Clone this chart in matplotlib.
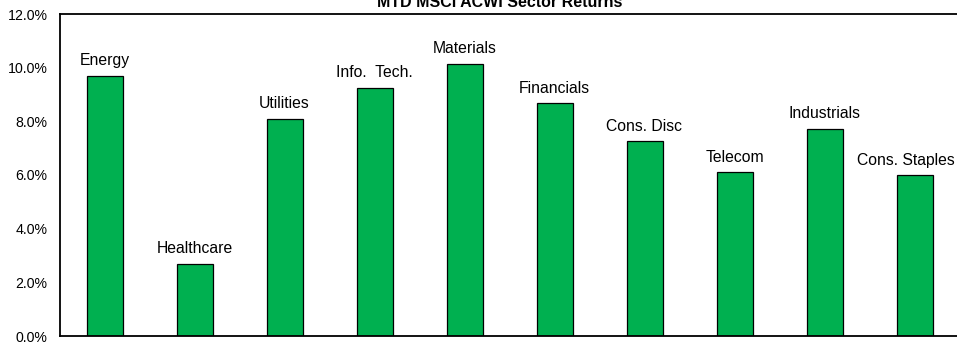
import numpy as np
import matplotlib.pyplot as plt
from matplotlib.ticker import FuncFormatter

plt.rcParams['font.family'] = ['Liberation Sans', 'DejaVu Sans']

sectors = ['Energy', 'Healthcare', 'Utilities', 'Info.  Tech.', 'Materials',
           'Financials', 'Cons. Disc', 'Telecom', 'Industrials', 'Cons. Staples']
returns = [9.7, 2.7, 8.1, 9.25, 10.15, 8.68, 7.27, 6.1, 7.72, 6.0]

fig = plt.figure(figsize=(9.57, 3.44), dpi=100)
ax = fig.add_axes([59.5 / 957, 8 / 344, 900 / 957, 322 / 344])

x = np.arange(len(sectors))
ax.bar(x, returns, width=0.4, color='#00b050', edgecolor='black', linewidth=0.9)

for xi, val, name in zip(x, returns, sectors):
    # last label is nudged left so it stays inside the figure
    dx = -6.5 if xi == x[-1] else 0
    ax.annotate(name, (xi, val), xytext=(dx, 7.5), textcoords='offset points',
                ha='center', va='baseline', fontsize=11.3)

ax.set_xlim(-0.5, 9.5)
ax.set_ylim(0, 12)
ax.set_yticks(np.arange(0, 12.1, 2))
ax.yaxis.set_major_formatter(FuncFormatter(lambda v, _: f'{v:.1f}%'))
ax.tick_params(axis='y', length=0, pad=8.5, labelsize=10.2)
ax.set_xticks([])

for side in ['left', 'top', 'bottom']:
    ax.spines[side].set_linewidth(1.3)
ax.spines['right'].set_visible(False)

fig.text(500 / 957, 1 - 7 / 344, 'MTD MSCI ACWI Sector Returns', ha='center', va='baseline',
         fontsize=11.5, fontweight='bold')

fig.savefig('out.png', dpi=100)
